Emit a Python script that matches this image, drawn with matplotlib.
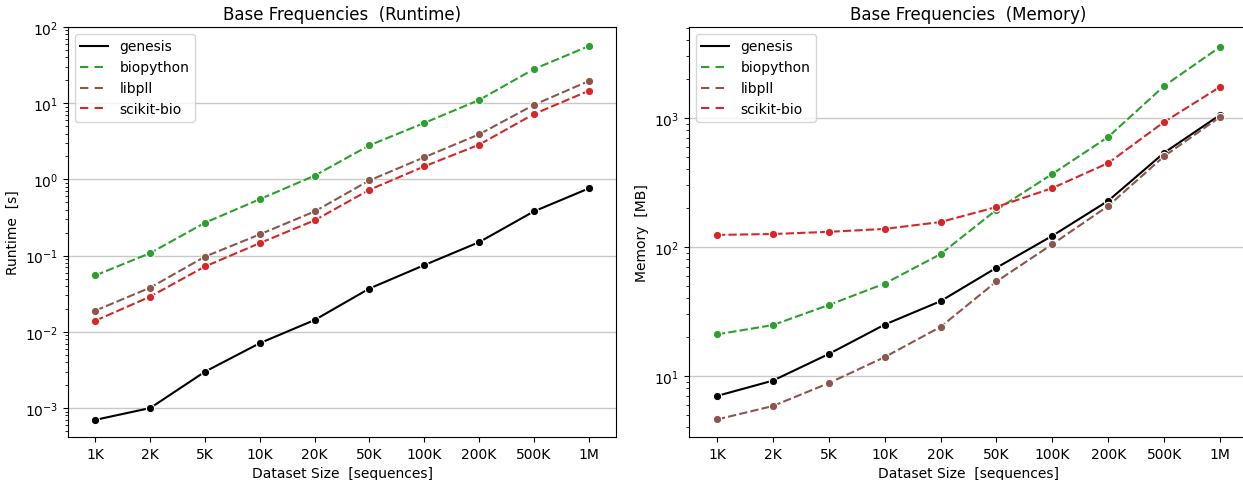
import matplotlib
matplotlib.use('Agg')
import matplotlib.pyplot as plt
from matplotlib.lines import Line2D

# dataset sizes (categories on the x axis)
sizes = ['1K', '2K', '5K', '10K', '20K', '50K', '100K', '200K', '500K', '1M']

# runtime in seconds
rt_genesis = [0.0007, 0.001, 0.003, 0.0071, 0.0143, 0.037, 0.075, 0.15, 0.38, 0.76]
rt_biopython = [0.055, 0.108, 0.27, 0.55, 1.12, 2.8, 5.5, 11.0, 28.0, 56.0]
rt_libpll = [0.019, 0.038, 0.097, 0.19, 0.38, 0.97, 1.95, 3.9, 9.5, 19.5]
rt_scikitbio = [0.014, 0.029, 0.072, 0.146, 0.29, 0.73, 1.48, 2.85, 7.2, 14.5]

# memory in MB
mem_genesis = [7.0, 9.2, 14.8, 25.0, 38.0, 69.0, 122.0, 228.0, 537.0, 1055.0]
mem_biopython = [21.0, 24.8, 35.5, 52.0, 88.0, 194.0, 368.0, 713.0, 1770.0, 3550.0]
mem_libpll = [4.6, 5.85, 8.8, 14.0, 24.0, 54.0, 105.0, 208.0, 505.0, 1018.0]
mem_scikitbio = [124.0, 126.0, 131.0, 138.0, 156.0, 204.0, 286.0, 447.0, 931.0, 1740.0]

tools = ['genesis', 'biopython', 'libpll', 'scikit-bio']
colors = ['black', 'tab:green', 'tab:brown', 'tab:red']
dashes = [None, (4, 1.5), (4, 1.5), (4, 1.5)]

fig = plt.figure(figsize=(12.43, 4.81), dpi=100)
ax1 = fig.add_axes([0.0547, 0.0894, 0.4409, 0.8524])
ax2 = fig.add_axes([0.5543, 0.0894, 0.4497, 0.8524])

x = list(range(len(sizes)))


def draw(ax, series, title, ylabel):
    handles = []
    for name, vals, c, d in zip(tools, series, colors, dashes):
        line, = ax.plot(x, vals, color=c, lw=1.5, marker='o', markersize=6,
                        markeredgecolor='white', markeredgewidth=0.8)
        h = Line2D([], [], color=c, lw=1.5, label=name)
        if d is not None:
            line.set_dashes(d)
            h.set_dashes((4, 3))
        handles.append(h)
    ax.set_yscale('log')
    ax.set_xticks(x)
    ax.set_xticklabels(sizes)
    ax.set_xlim(-0.5, 9.5)
    ax.grid(True, axis='y', which='major', color='#c8c8c8', lw=1)
    ax.set_axisbelow(True)
    ax.set_title(title)
    ax.set_xlabel('Dataset Size  [sequences]')
    ax.set_ylabel(ylabel)
    ax.legend(handles=handles, loc='upper left')


draw(ax1, [rt_genesis, rt_biopython, rt_libpll, rt_scikitbio],
     'Base Frequencies  (Runtime)', 'Runtime  [s]')
ax1.set_ylim(10 ** -3.38, 100)

draw(ax2, [mem_genesis, mem_biopython, mem_libpll, mem_scikitbio],
     'Base Frequencies  (Memory)', 'Memory  [MB]')
ax2.set_ylim(10 ** 0.527, 10 ** 3.705)

fig.savefig('out.png', dpi=100)
